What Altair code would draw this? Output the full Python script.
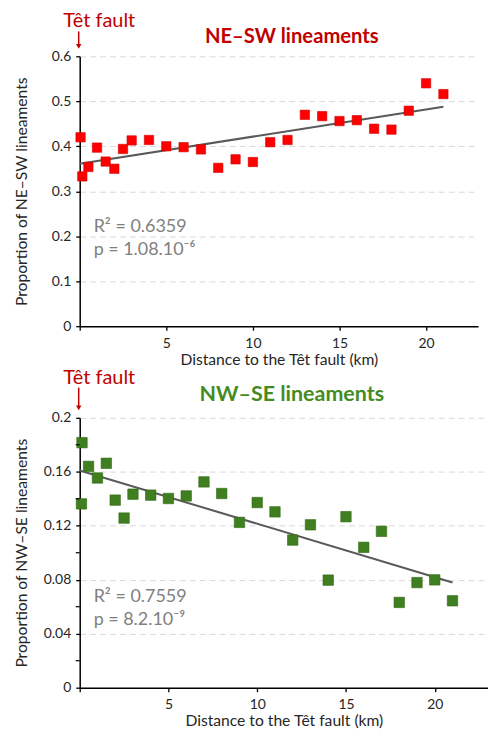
import altair as alt
import pandas as pd

# ---- data ----
ne_x = [0.05, 0.15, 0.5, 1, 1.5, 2, 2.5, 3, 4, 5, 6, 7, 8, 9, 10, 11, 12, 13,
        14, 15, 16, 17, 18, 19, 20, 21]
ne_y = [0.420, 0.333, 0.354, 0.397, 0.366, 0.350, 0.394, 0.413, 0.414, 0.400,
        0.398, 0.393, 0.352, 0.371, 0.365, 0.409, 0.414, 0.470, 0.467, 0.456,
        0.458, 0.439, 0.437, 0.479, 0.540, 0.516]
ne_trend_x = [0, 21]
ne_trend_y = [0.361, 0.488]

nw_x = [0.13, 0.1, 0.5, 1, 1.5, 2, 2.5, 3, 4, 5, 6, 7, 8, 9, 10, 11, 12, 13,
        14, 15, 16, 17, 18, 19, 20, 21]
nw_y = [0.1816, 0.1362, 0.1640, 0.1554, 0.1663, 0.1390, 0.1257, 0.1434,
        0.1427, 0.1402, 0.1421, 0.1525, 0.1439, 0.1225, 0.1372, 0.1303,
        0.1094, 0.1207, 0.0797, 0.1267, 0.1040, 0.1159, 0.0632, 0.0779,
        0.0799, 0.0644]
nw_trend_x = [0, 21]
nw_trend_y = [0.161, 0.078]

x_ticks = [0, 5, 10, 15, 20]
ne_y_ticks = [0, 0.1, 0.2, 0.3, 0.4, 0.5, 0.6]
nw_y_ticks = [0, 0.04, 0.08, 0.12, 0.16, 0.2]
nw_minor_ticks = [0.02, 0.06, 0.10, 0.14, 0.18]

ne_stats = ["R² = 0.6359", "p = 1.08.10⁻⁶"]
nw_stats = ["R² = 0.7559", "p = 8.2.10⁻⁹"]

FONT = "Lato"
DARK_RED = "#C00000"


def panel(px, py, tx, ty, yticks, ydomain, xdomain, w, ytitle, title,
          title_color, title_size, title_y, tet_y, stats_y,
          point_color, point_stroke, psize, stats, minor=None):
    df = pd.DataFrame({"x": px, "y": py})
    tdf = pd.DataFrame({"x": tx, "y": ty})
    one = pd.DataFrame({"a": [0]})

    xe = alt.X("x:Q", scale=alt.Scale(domain=xdomain, nice=False, zero=True),
               axis=alt.Axis(values=x_ticks, grid=False,
                             labelExpr="datum.value == 0 ? '' : datum.label",
                             title="Distance to the Têt fault (km)",
                             titlePadding=2))
    ye = alt.Y("y:Q", scale=alt.Scale(domain=ydomain, nice=False),
               axis=alt.Axis(values=yticks, format="~g", grid=True,
                             title=ytitle, titleX=-58, titleBaseline="middle"))

    trend = alt.Chart(tdf).mark_line(color="#595959", strokeWidth=2).encode(
        x=xe, y=ye)
    pts = alt.Chart(df).mark_square(size=psize, color=point_color, opacity=1,
                                    stroke=point_stroke, strokeWidth=0.6).encode(
        x=xe, y=ye)
    txt = alt.Chart(one).mark_text(align="left", baseline="alphabetic",
                                   fontSize=18, font=FONT, color="#808080",
                                   lineHeight=24).encode(
        x=alt.value(14), y=alt.value(stats_y), text=alt.value(stats))
    ttl = alt.Chart(one).mark_text(align="center", baseline="alphabetic",
                                   fontSize=title_size, font=FONT,
                                   fontWeight="bold",
                                   color=title_color).encode(
        x=alt.value(213), y=alt.value(title_y), text=alt.value(title))
    tet = alt.Chart(one).mark_text(align="left", baseline="alphabetic",
                                   fontSize=20, font=FONT,
                                   color=DARK_RED).encode(
        x=alt.value(-16.5), y=alt.value(tet_y), text=alt.value("Têt fault"))
    arrow = alt.Chart(one).mark_rule(color=DARK_RED, strokeWidth=1.5).encode(
        x=alt.value(-1), y=alt.value(tet_y + 4), y2=alt.value(-11))
    head = alt.Chart(one).mark_point(shape="triangle-down", filled=True,
                                     size=30, color=DARK_RED, opacity=1).encode(
        x=alt.value(-1), y=alt.value(-10))
    layers = [trend, pts, txt, ttl, tet, arrow, head]
    if minor is not None:
        mdf = pd.DataFrame({"y": minor})
        mt = alt.Chart(mdf).mark_rule(color="black", strokeWidth=1.2).encode(
            y=ye, x=alt.value(-4), x2=alt.value(0))
        layers.append(mt)
    return alt.layer(*layers).properties(width=w, height=271)


top = panel(ne_x, ne_y, ne_trend_x, ne_trend_y, ne_y_ticks, [0, 0.6], [0, 23],
            400, "Proportion of NE–SW lineaments", "NE–SW lineaments",
            DARK_RED, 20.3, -13, -29, 176,
            "#FF0000", "#d00000", 88, ne_stats)
bottom = panel(nw_x, nw_y, nw_trend_x, nw_trend_y, nw_y_ticks, [0, 0.2],
               [0, 23], 410, "Proportion of NW–SE lineaments",
               "NW–SE lineaments", "#458B22", 21.5, -16.6, -34.3, 184.5,
               "#3F7F1F", "#2f6a14", 110, nw_stats, minor=nw_minor_ticks)

chart = alt.vconcat(top, bottom, spacing=92, bounds="flush").properties(
    padding={"left": 5, "top": 2, "right": 0, "bottom": 5},
    background="white",
).configure_view(stroke=None).configure_axis(
    domainColor="black", domainWidth=1.5, tickColor="black", tickWidth=1.3,
    tickSize=4, labelColor="#262626", labelFontSize=14, labelFont=FONT,
    labelPadding=6, titleFont=FONT, titleFontSize=15.7, titleFontWeight="normal",
    titleColor="#262626", gridColor="#d9d9d9", gridDash=[6, 4], gridWidth=1,
).configure_axisY(labelPadding=5)

chart.save("out.html", embed_options={"renderer": "svg", "actions": False})
